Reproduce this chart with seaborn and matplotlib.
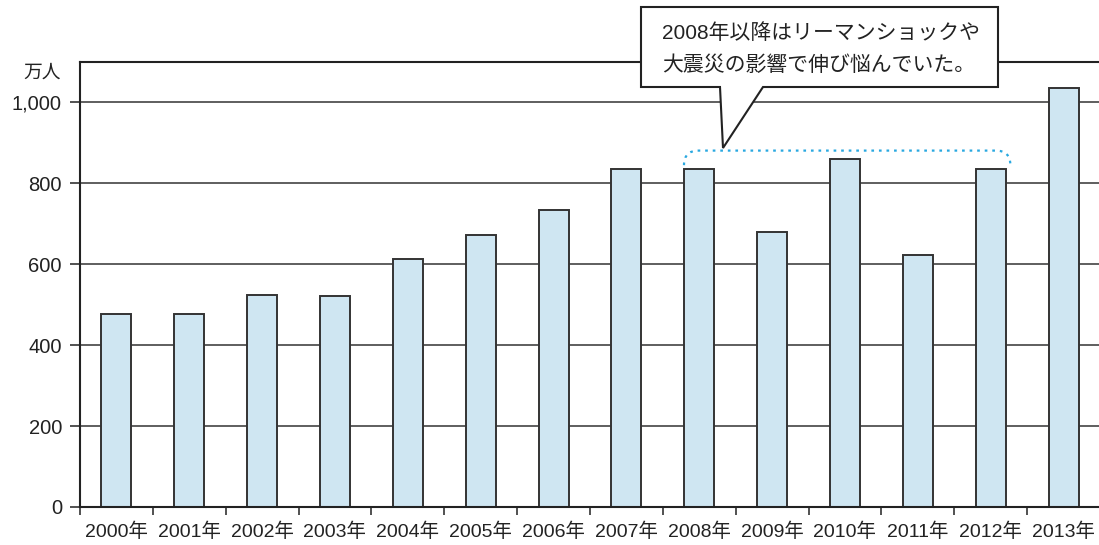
import matplotlib
matplotlib.use("Agg")
import matplotlib.pyplot as plt
import seaborn as sns
import pandas as pd
from matplotlib.patches import Polygon, PathPatch
from matplotlib.path import Path
from matplotlib.ticker import FuncFormatter

years = ["2000年", "2001年", "2002年", "2003年", "2004年", "2005年", "2006年",
         "2007年", "2008年", "2009年", "2010年", "2011年", "2012年", "2013年"]
visitors = [476, 477, 524, 521, 614, 673, 733, 835, 835, 679, 861, 622, 836, 1036]
y_ticks = [0, 200, 400, 600, 800, 1000]
unit_label = "万人"
callout_text = "2008年以降はリーマンショックや\n大震災の影響で伸び悩んでいた。"

sns.set_theme(style="white")
plt.rcParams["font.family"] = ["Liberation Sans", "Noto Sans CJK JP", "DejaVu Sans"]

df = pd.DataFrame({"year": years, "visitors": visitors})

fig = plt.figure(figsize=(10.99, 5.45), dpi=100)
ax = fig.add_axes([80 / 1099, 1 - 507 / 545, 1020 / 1099, 445 / 545])

ax.set_axisbelow(True)
for v in y_ticks[1:]:
    ax.axhline(v, color="#333333", lw=1.1, zorder=0)

sns.barplot(data=df, x="year", y="visitors", ax=ax, color="#cfe6f2",
            edgecolor="#333333", linewidth=1.4, width=0.41, saturation=1, zorder=2)

ax.set_xlim(-0.5, len(years) - 0.5)
ax.set_ylim(0, 1100)
ax.set_yticks(y_ticks)
ax.yaxis.set_major_formatter(FuncFormatter(lambda v, p: f"{int(v):,}"))
ax.set_xlabel("")
ax.set_ylabel("")
ax.set_xticks(range(len(years)))
ax.set_xticklabels(years)
ax.set_xticks([i - 0.5 for i in range(len(years) + 1)], minor=True)
ax.tick_params(axis="x", which="major", length=0, labelsize=14, pad=11, colors="#222222")
ax.tick_params(axis="x", which="minor", length=6, width=1.2, color="#333333",
               direction="out", bottom=True)
ax.tick_params(axis="y", length=7, width=1.2, color="#333333", labelsize=14.5, pad=6,
               colors="#222222", left=True)
for s in ["left", "bottom", "top"]:
    ax.spines[s].set_color("#222222")
    ax.spines[s].set_linewidth(1.5)
ax.spines["right"].set_visible(False)


def fx(px):
    return (px - 80) / 1020


def fy(py):
    return (507 - py) / 445


ax.text(fx(61), fy(73), unit_label, transform=ax.transAxes, ha="right", va="center",
        fontsize=13.5, color="#222222")

# dotted bracket over 2008-2012
bx0, bx1 = 7.79, 12.27
by_top, by_low = 881, 845
verts = [(bx0, by_low), (bx0, by_top), (bx0 + 0.2, by_top), (bx1 - 0.2, by_top),
         (bx1, by_top), (bx1, by_low)]
codes = [Path.MOVETO, Path.CURVE3, Path.CURVE3, Path.LINETO, Path.CURVE3, Path.CURVE3]
ax.add_patch(PathPatch(Path(verts, codes), fill=False, edgecolor="#29a8e0",
                       lw=1.6, ls=(0, (1.2, 2.2)), zorder=3, clip_on=False))

# callout box with tail (axes fraction coordinates)
poly = [(fx(641), fy(7)), (fx(998), fy(7)), (fx(998), fy(87)), (fx(763), fy(87)),
        (fx(723), fy(148)), (fx(720), fy(87)), (fx(641), fy(87))]
ax.add_patch(Polygon(poly, closed=True, transform=ax.transAxes, facecolor="white",
                     edgecolor="#222222", lw=1.5, zorder=5, clip_on=False))
ax.text(fx(662), fy(49), callout_text, transform=ax.transAxes, ha="left", va="center",
        fontsize=15, color="#222222", linespacing=1.75, zorder=6)

fig.savefig("out.png", dpi=100)
